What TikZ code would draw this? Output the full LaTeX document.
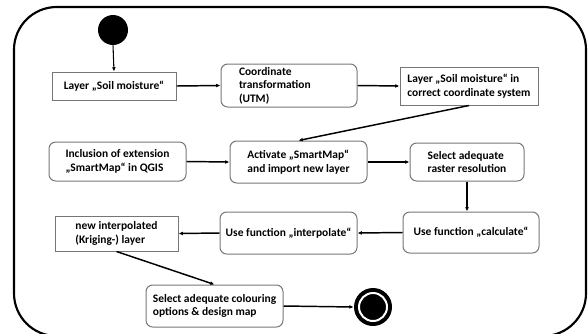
\documentclass[tikz,border=0pt]{standalone}
\usepackage{fontspec}
\setmainfont{Carlito}
\usetikzlibrary{arrows.meta}
\definecolor{boxgray}{RGB}{118,118,118}
\tikzset{
  basebox/.style={draw=boxgray, line width=0.75pt, inner sep=0pt,
    font=\bfseries\fontsize{8.6pt}{10.2pt}\selectfont, align=left},
  sharpbox/.style={basebox},
  roundbox/.style={basebox, rounded corners=5pt},
  flow/.style={line width=1.1pt, -{Latex[length=3.2pt,width=2.8pt]}},
  thinflow/.style={line width=0.8pt, -{Latex[length=3.2pt,width=2.8pt]}}
}
\begin{document}
\begin{tikzpicture}[x=0.75pt, y=-0.75pt]
\useasboundingbox (0,0) rectangle (588,333);
% outer frame
\draw[line width=1.6pt, rounded corners=32pt] (14,7) rectangle (586,336);

% start
\node (start) [circle, fill=black, minimum size=22.5pt, inner sep=0pt] at (113,30) {};

% row 1
\node (b1) [sharpbox, minimum width=93pt, minimum height=21pt, align=center] at (114,86) {Layer „Soil moisture“};
\node (b2) [roundbox, text width=75pt, inner xsep=13.5pt, minimum height=32.25pt] at (289,85.5) {Coordinate\\ transformation\\ (UTM)};
\node (b3) [sharpbox, minimum width=103.5pt, minimum height=28.5pt] at (469,86) {Layer „Soil moisture“ in\\ correct coordinate system};

% row 2
\node (b5) [roundbox, minimum width=102.75pt, minimum height=29.25pt] at (117.5,161.5) {Inclusion of extension\\ „SmartMap“ in QGIS};
\node (b4) [roundbox, minimum width=102.75pt, minimum height=31.5pt] at (298.5,162) {Activate „SmartMap“\\ and import new layer};
\node (b6) [roundbox, minimum width=85.5pt, minimum height=28.5pt] at (467,162) {Select adequate\\ raster resolution};

% row 3
\node (b7) [roundbox, minimum width=102pt, minimum height=30.75pt] at (471,232.5) {Use function „calculate“};
\node (b8) [roundbox, minimum width=102.75pt, minimum height=31.5pt] at (288.5,233) {Use function „interpolate“};
\node (b9) [sharpbox, minimum width=92.25pt, minimum height=26.25pt] at (116.5,233.5) {new interpolated\\ (Kriging-) layer};

% row 4
\node (b10) [roundbox, minimum width=102.75pt, minimum height=31.5pt] at (214.5,306) {Select adequate colouring\\ options \& design map};
\node (end) [circle, fill=black, minimum size=28.5pt, inner sep=0pt] at (373,307) {};
\draw[white, line width=1.5pt] (end.center) circle (14);

% connectors
\draw[thinflow] (start.south) -- (b1.north);
\draw[flow] (b1.east) -- (b2.west);
\draw[flow] (b2.east) -- (b3.west);
\draw[flow] (b3.south) -- (b4.north);
\draw[flow] (b5.east) -- (b4.west);
\draw[flow] (b4.east) -- (b6.west);
\draw[thinflow] (b6.south) -- (b6.south |- b7.north);
\draw[flow] (b7.west) -- (b8.east);
\draw[flow] (b8.west) -- (b9.east);
\draw[flow] (b9.south) -- (b10.north);
\draw[flow] (b10.east) -- (end.west);
\end{tikzpicture}
\end{document}
